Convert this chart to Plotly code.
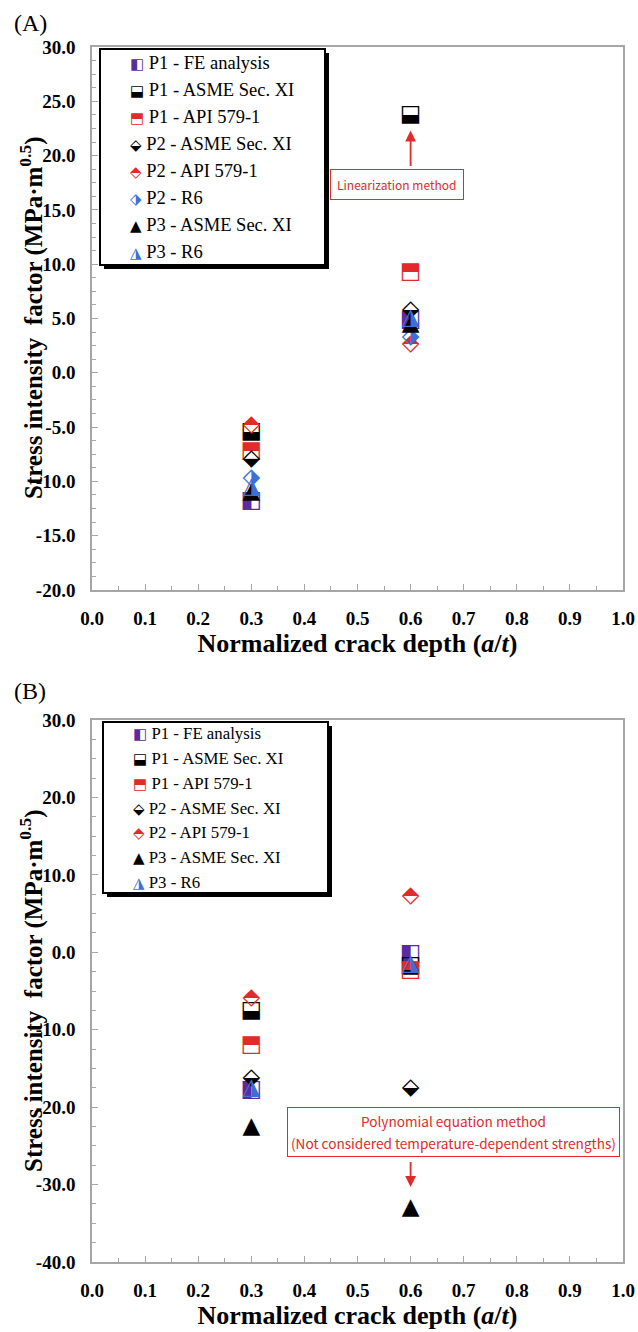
import plotly.graph_objects as go

W, H = 638, 1332

# ---------------- data ----------------
crack_depth = [0.3, 0.6]

names_a = ["P1 - FE analysis", "P1 - ASME Sec. XI", "P1 - API 579-1", "P2 - ASME Sec. XI",
           "P2 - API 579-1", "P2 - R6", "P3 - ASME Sec. XI", "P3 - R6"]
fe_a = [-11.8, 4.8]
p1_asme_a = [-5.5, 23.7]
p1_api_a = [-7.2, 9.3]
p2_asme_a = [-8.0, 5.8]
p2_api_a = [-4.8, 2.6]
p2_r6_a = [-9.7, 3.3]
p3_asme_a = [-11.0, 4.5]
p3_r6_a = [-10.5, 5.0]
values_a = [fe_a, p1_asme_a, p1_api_a, p2_asme_a, p2_api_a, p2_r6_a, p3_asme_a, p3_r6_a]

names_b = ["P1 - FE analysis", "P1 - ASME Sec. XI", "P1 - API 579-1", "P2 - ASME Sec. XI",
           "P2 - API 579-1", "P3 - ASME Sec. XI", "P3 - R6"]
fe_b = [-17.8, -0.3]
p1_asme_b = [-7.6, -1.8]
p1_api_b = [-12.0, -2.3]
p2_asme_b = [-16.3, -17.5]
p2_api_b = [-6.0, 7.2]
p3_asme_b = [-22.6, -33.0]
p3_r6_b = [-17.5, -1.5]
values_b = [fe_b, p1_asme_b, p1_api_b, p2_asme_b, p2_api_b, p3_asme_b, p3_r6_b]

x_ticks = [0.0, 0.1, 0.2, 0.3, 0.4, 0.5, 0.6, 0.7, 0.8, 0.9, 1.0]
x_ticktext = ["0.0", "0.1", "0.2", "0.3", "0.4", "0.5", "0.6", "0.7", "0.8", "0.9", "1.0"]
ya_ticks = [30, 25, 20, 15, 10, 5, 0, -5, -10, -15, -20]
ya_ticktext = ["30.0", "25.0", "20.0", "15.0", "10.0", "5.0", "0.0", "-5.0", "-10.0", "-15.0", "-20.0"]
yb_ticks = [30, 20, 10, 0, -10, -20, -30, -40]
yb_ticktext = ["30.0", "20.0", "10.0", "0.0", "-10.0", "-20.0", "-30.0", "-40.0"]

# ---------------- styles ----------------
PURPLE = "#5a2aa0"
RED = "#e12a2a"
BLUE = "#3d6fd6"
BLACK = "#000000"
style = {
    "P1 - FE analysis": ("\u25E7", PURPLE),
    "P1 - ASME Sec. XI": ("\u2B13", BLACK),
    "P1 - API 579-1": ("\u2B12", RED),
    "P2 - ASME Sec. XI": ("\u2B19", BLACK),
    "P2 - API 579-1": ("\u2B18", RED),
    "P2 - R6": ("\u2B17", BLUE),
    "P3 - ASME Sec. XI": ("\u25B2", BLACK),
    "P3 - R6": ("\u25EE", BLUE),
}

SERIF = "Liberation Serif"
GLYPH_FONT = "DejaVu Sans"
SANS = "Noto Sans CJK KR"


def px_x(p):
    return p / W


def px_y(p):
    return 1 - p / H


fig = go.Figure()


def add_series(names, values, xa, ya, legend):
    for nm, vals in zip(names, values):
        g, c = style[nm]
        fig.add_trace(go.Scatter(
            x=crack_depth, y=vals, mode="text", text=[g] * len(vals),
            textposition="middle center",
            textfont=dict(family=GLYPH_FONT, size=23, color=c),
            xaxis=xa, yaxis=ya, showlegend=False, hoverinfo="skip",
            legendgroup=legend + nm))
        fig.add_trace(go.Scatter(
            x=crack_depth, y=vals, mode="markers",
            marker=dict(size=1, color="rgba(0,0,0,0)", line=dict(width=0)),
            name=f"<span style='font-family:{GLYPH_FONT};font-size:15px;color:{c}'>{g}</span> {nm}",
            xaxis=xa, yaxis=ya, legend=legend, legendgroup=legend + nm))


add_series(names_a, values_a, "x", "y", "legend")
add_series(names_b, values_b, "x2", "y2", "legend2")

xdom = [px_x(92), px_x(623)]
axis_common = dict(showline=True, linecolor="#a6a6a6", linewidth=1.5, mirror=True,
                   ticks="inside", ticklen=6, tickcolor="#a6a6a6", tickwidth=1,
                   showgrid=False, zeroline=False,
                   tickfont=dict(family=SERIF, size=19, color="black", weight="bold"))
title_font = dict(family=SERIF, size=26, color="black", weight="bold")

xa = dict(axis_common, domain=xdom, range=[0, 1], tickvals=x_ticks, ticktext=x_ticktext,
          minor=dict(dtick=0.05, ticks="inside", ticklen=4, tickcolor="#a6a6a6"),
          ticklabelstandoff=10,
          title=dict(text="Normalized crack depth (<i>a</i>/<i>t</i>)", font=title_font, standoff=2))
ya_ = dict(axis_common, range=[-20, 30], tickvals=ya_ticks, ticktext=ya_ticktext,
           minor=dict(dtick=1.25, ticks="inside", ticklen=4, tickcolor="#a6a6a6"),
           ticklabelstandoff=11)

legend_common = dict(xanchor="left", yanchor="top", bgcolor="rgba(0,0,0,0)",
                     borderwidth=0, itemwidth=30, tracegroupgap=0, indentation=-12)

fig.update_layout(
    width=W, height=H, margin=dict(l=0, r=0, t=0, b=0, autoexpand=False),
    paper_bgcolor="white", plot_bgcolor="white",
    xaxis=dict(xa, anchor="y"),
    yaxis=dict(ya_, domain=[px_y(590), px_y(47)], anchor="x"),
    xaxis2=dict(xa, anchor="y2"),
    yaxis2=dict(ya_, domain=[px_y(1262), px_y(720)], anchor="x2", range=[-40, 30],
                tickvals=yb_ticks, ticktext=yb_ticktext,
                minor=dict(dtick=2.5, ticks="inside", ticklen=4, tickcolor="#a6a6a6")),
    legend=dict(legend_common, x=px_x(102), y=px_y(43),
                font=dict(family=SERIF, size=18.5, color="black")),
    legend2=dict(legend_common, x=px_x(105), y=px_y(715),
                 font=dict(family=SERIF, size=16.8, color="black")),
    showlegend=True,
)

# legend frames with drop shadows
for (x0, y0, x1, y1) in [(100, 49, 325, 265), (103, 722, 328, 893)]:
    fig.add_shape(type="rect", xref="paper", yref="paper", x0=px_x(x0 + 4), x1=px_x(x1 + 4),
                  y0=px_y(y1 + 4), y1=px_y(y0 + 4), fillcolor="black", line=dict(width=0), layer="above")
    fig.add_shape(type="rect", xref="paper", yref="paper", x0=px_x(x0), x1=px_x(x1),
                  y0=px_y(y1), y1=px_y(y0), fillcolor="white", line=dict(color="black", width=2), layer="above")

# y-axis titles
ytitle = "Stress intensity  factor (MPa\u00b7m<sup>0.5</sup>)"
for cy in (318, 991):
    fig.add_annotation(text=ytitle, xref="paper", yref="paper", x=px_x(31), y=px_y(cy),
                       xanchor="center", yanchor="middle",
                       textangle=-90, showarrow=False,
                       font=dict(family=SERIF, size=25, color="black", weight="bold"))

# panel labels
fig.add_annotation(text="(A)", xref="paper", yref="paper", x=px_x(12), y=px_y(8),
                   xanchor="left", yanchor="top", showarrow=False,
                   font=dict(family=SERIF, size=24, color="black"))
fig.add_annotation(text="(B)", xref="paper", yref="paper", x=px_x(12), y=px_y(676),
                   xanchor="left", yanchor="top", showarrow=False,
                   font=dict(family=SERIF, size=24, color="black"))

# panel A callout
fig.add_annotation(text="Linearization method", xref="x", yref="y", x=0.575, y=17.3,
                   showarrow=False, font=dict(family=SANS, size=12, color=RED),
                   bordercolor=RED, borderwidth=1, borderpad=6, bgcolor="white")
fig.add_annotation(text="", xref="x", yref="y", x=0.6, y=22.3, ax=0.6, ay=18.9,
                   axref="x", ayref="y", showarrow=True, arrowhead=2, arrowsize=1.2,
                   arrowwidth=1.8, arrowcolor=RED)
# panel B callout
fig.add_annotation(text="<span style='font-size:13.6px'>Polynomial equation method</span><br>"
                        "<span style='font-size:13.6px'>(Not considered temperature-dependent strengths)</span>",
                   xref="x2", yref="y2", x=0.68, y=-23.2,
                   showarrow=False, font=dict(family=SANS, size=17, color=RED),
                   bordercolor=RED, borderwidth=1, borderpad=3, bgcolor="white", align="center")
fig.add_annotation(text="", xref="x2", yref="y2", x=0.6, y=-30.3, ax=0.6, ay=-26.9,
                   axref="x2", ayref="y2", showarrow=True, arrowhead=2, arrowsize=1.2,
                   arrowwidth=1.8, arrowcolor=RED)

fig.write_html("out.html")
